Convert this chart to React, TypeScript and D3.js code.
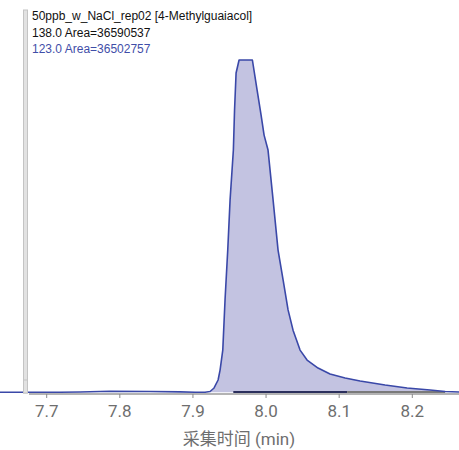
import React, { useEffect, useRef } from 'react';
import * as d3 from 'd3';

// retention time (min) and relative intensity (%)
const times = [
  7.6361, 7.7182, 7.7456, 7.7866, 7.8413, 7.8824, 7.9029, 7.9166, 7.9234, 7.9289,
  7.9344, 7.9371, 7.9408, 7.9439, 7.9476, 7.9508, 7.9553, 7.9569, 7.959, 7.9631,
  7.9813, 7.9877, 7.9932, 7.9973, 8.0027, 8.0096, 8.0164, 8.0233, 8.0301, 8.0369,
  8.0465, 8.0561, 8.0711, 8.0875, 8.1081, 8.1286, 8.1628, 8.1929, 8.2243, 8.2449, 8.264,
];
const intensity = [
  0, 0, 0.1, 0.3, 0.24, 0.12, 0, 0.03, 0.24, 1.3,
  3.7, 6.7, 12.7, 27.8, 42.8, 57.9, 72.9, 84.9, 96.1, 100,
  100, 91, 83.4, 77.4, 72.9, 57.9, 42.8, 33.8, 24.8, 18.7,
  12.7, 9.7, 7.3, 5.5, 4.3, 3.4, 2.2, 1.3, 0.7, 0.24, 0.1,
];
const peakStart = 7.922;
const peakEnd = 8.2449;
// integration baselines: 138.0 (dark) and 123.0 (grey)
const baselineSegs = [
  { from: 7.9552, to: 8.1109, color: '#2b2f5c' },
  { from: 8.1109, to: 8.2449, color: '#7a7a7a' },
];
const tickValues = [7.7, 7.8, 7.9, 8.0, 8.1, 8.2];
const headerLines = [
  { text: '50ppb_w_NaCl_rep02 [4-Methylguaiacol]', color: '#111' },
  { text: '138.0 Area=36590537', color: '#111' },
  { text: '123.0 Area=36502757', color: '#3f4ea8' },
];
const xTitle = '采集时间 (min)';

export default function App() {
  const svgRef = useRef<SVGSVGElement>(null);

  useEffect(() => {
    if (!svgRef.current) return;
    const width = 459;
    const height = 450;
    const svg = d3.select(svgRef.current);
    svg.selectAll('*').remove();
    svg.attr('width', width).attr('height', height).attr('viewBox', [0, 0, width, height]);

    const x = d3.scaleLinear().domain([7.7, 8.2]).range([46.7, 412.3]);
    const y = d3.scaleLinear().domain([0, 100]).range([392.3, 60]);
    const data = times.map((t, i) => ({ t, v: intensity[i] }));

    // grey splitter bar at the left
    svg.append('rect')
      .attr('x', 23.5).attr('y', 10).attr('width', 4).attr('height', 383)
      .attr('fill', '#e2e2e2').attr('stroke', '#c4c4c4').attr('stroke-width', 1);

    // axis line + ticks
    const axisY = 394;
    svg.append('line')
      .attr('x1', 29).attr('x2', width).attr('y1', axisY).attr('y2', axisY)
      .attr('stroke', '#9a9a9a').attr('stroke-width', 1.5);
    const ticks = svg.append('g');
    tickValues.forEach((v) => {
      ticks.append('line')
        .attr('x1', x(v)).attr('x2', x(v)).attr('y1', axisY).attr('y2', axisY + 4)
        .attr('stroke', '#8a8a8a');
      ticks.append('text')
        .attr('x', x(v)).attr('y', 417)
        .attr('text-anchor', 'middle')
        .attr('font-family', 'Roboto, sans-serif')
        .attr('font-size', 17)
        .attr('fill', '#6e6e6e')
        .text(v.toFixed(1));
    });
    svg.append('text')
      .attr('x', 239).attr('y', 445)
      .attr('text-anchor', 'middle')
      .attr('font-family', 'Roboto, "Noto Sans CJK SC", sans-serif')
      .attr('font-size', 17)
      .attr('fill', '#6e6e6e')
      .text(xTitle);

    // integrated area
    const inPeak = data.filter((d) => d.t >= peakStart && d.t <= peakEnd);
    const area = d3.area<{ t: number; v: number }>()
      .x((d) => x(d.t)).y0(y(0)).y1((d) => y(d.v));
    svg.append('path')
      .attr('d', area(inPeak))
      .attr('fill', '#c3c3e1');

    baselineSegs.forEach((s) => {
      svg.append('line')
        .attr('x1', x(s.from)).attr('x2', x(s.to))
        .attr('y1', y(0.1)).attr('y2', y(0.1))
        .attr('stroke', s.color).attr('stroke-width', 2);
    });

    // trace, interrupted by the splitter bar
    const line = d3.line<{ t: number; v: number }>()
      .x((d) => x(d.t)).y((d) => y(d.v));
    svg.append('path')
      .attr('d', line(data))
      .attr('fill', 'none')
      .attr('stroke', '#3a48a8')
      .attr('stroke-width', 1.6)
      .attr('stroke-linejoin', 'round');
    svg.append('rect')
      .attr('x', 23.5).attr('y', 380).attr('width', 4).attr('height', 13)
      .attr('fill', '#e2e2e2').attr('stroke', '#c4c4c4').attr('stroke-width', 1);

    // header text
    headerLines.forEach((h, i) => {
      svg.append('text')
        .attr('x', 32).attr('y', 20 + i * 16.5)
        .attr('font-family', '"Liberation Sans", Arial, sans-serif')
        .attr('font-size', 12)
        .attr('fill', h.color)
        .text(h.text);
    });
  }, []);

  return (
    <div style={{ position: 'absolute', left: 0, top: 0 }}>
      <svg ref={svgRef} style={{ display: 'block', background: '#fff' }} />
    </div>
  );
}
